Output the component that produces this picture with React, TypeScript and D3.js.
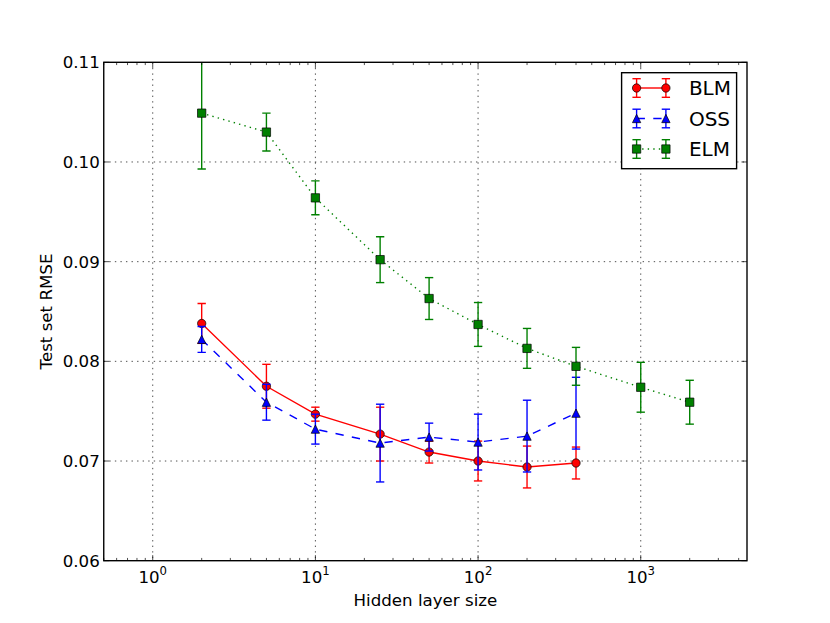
import { useRef, useEffect } from 'react'
import * as d3 from 'd3'

const W = 830
const H = 623
const MARGIN = { top: 62.3, right: 83, bottom: 62.3, left: 103.75 }
const PT = 100 / 72 // matplotlib points -> px at 100 dpi

const FONT = "'DejaVu Sans', 'Liberation Sans', sans-serif"
const RED = '#ff0000'
const BLUE = '#0000ff'
const GREEN = '#008000'

// ── Data ──────────────────────────────────────────────────────────────
const BLM_SIZES = [2, 5, 10, 25, 50, 100, 200, 400]
const BLM_RMSE = [0.0838, 0.0775, 0.0747, 0.0727, 0.0709, 0.07, 0.0694, 0.0698]
const BLM_ERR = [0.002, 0.0022, 0.0007, 0.0027, 0.0011, 0.002, 0.0021, 0.0016]

const OSS_SIZES = [2, 5, 10, 25, 50, 100, 200, 400]
const OSS_RMSE = [0.0822, 0.0759, 0.0732, 0.0718, 0.0724, 0.0719, 0.0725, 0.0748]
const OSS_ERR = [0.0013, 0.0018, 0.0015, 0.0039, 0.0014, 0.0028, 0.0036, 0.0036]

const ELM_SIZES = [2, 5, 10, 25, 50, 100, 200, 400, 1000, 2000]
const ELM_RMSE = [0.1049, 0.103, 0.0964, 0.0902, 0.0863, 0.0837, 0.0813, 0.0795, 0.0774, 0.0759]
const ELM_ERR = [0.0056, 0.0019, 0.0017, 0.0023, 0.0021, 0.0022, 0.002, 0.0019, 0.0025, 0.0022]

const X_DOMAIN: [number, number] = [0.5, 4500]
const Y_DOMAIN: [number, number] = [0.06, 0.11]
const X_MAJOR = [1, 10, 100, 1000]
const X_EXPONENTS = ['0', '1', '2', '3']
const Y_TICKS = [0.06, 0.07, 0.08, 0.09, 0.1, 0.11]
const Y_LABELS = ['0.06', '0.07', '0.08', '0.09', '0.10', '0.11']

const X_TITLE = 'Hidden layer size'
const Y_TITLE = 'Test set RMSE'

// matplotlib '^' marker: apex up, base as wide as it is tall
const triangleUp: d3.SymbolType = {
  draw(ctx, size) {
    const r = Math.sqrt(size) / 2
    ctx.moveTo(0, -r)
    ctx.lineTo(r, r)
    ctx.lineTo(-r, r)
    ctx.closePath()
  },
}

const MS = 6 * PT // marker size
const SERIES = [
  { name: 'BLM', sizes: BLM_SIZES, rmse: BLM_RMSE, err: BLM_ERR, color: RED, dash: null as string | null,
    symbol: d3.symbol(d3.symbolCircle, Math.PI * (MS / 2) ** 2) },
  { name: 'OSS', sizes: OSS_SIZES, rmse: OSS_RMSE, err: OSS_ERR, color: BLUE, dash: `${6 * PT},${6 * PT}`,
    symbol: d3.symbol(triangleUp, MS * MS) },
  { name: 'ELM', sizes: ELM_SIZES, rmse: ELM_RMSE, err: ELM_ERR, color: GREEN, dash: `${1 * PT},${3 * PT}`,
    symbol: d3.symbol(d3.symbolSquare, MS * MS) },
]

export default function App() {
  const svgRef = useRef<SVGSVGElement>(null)

  useEffect(() => {
    const svg = d3.select(svgRef.current)
    svg.selectAll('*').remove()

    const w = W - MARGIN.left - MARGIN.right
    const h = H - MARGIN.top - MARGIN.bottom
    const x = d3.scaleLog().domain(X_DOMAIN).range([0, w])
    const y = d3.scaleLinear().domain(Y_DOMAIN).range([h, 0])

    svg.append('rect').attr('width', W).attr('height', H).attr('fill', '#fff')

    svg.append('defs').append('clipPath').attr('id', 'plot-clip')
      .append('rect').attr('width', w).attr('height', h)

    const g = svg.append('g').attr('transform', `translate(${MARGIN.left},${MARGIN.top})`)

    // ── Grid ────────────────────────────────────────────────────────────
    const gridDash = `${1 * PT},${3 * PT}`
    g.selectAll('.vgrid').data(X_MAJOR).join('line').attr('class', 'vgrid')
      .attr('x1', (d) => x(d)).attr('x2', (d) => x(d))
      .attr('y1', 0).attr('y2', h)
      .attr('stroke', '#000').attr('stroke-width', 0.5 * PT).attr('stroke-dasharray', gridDash)
    g.selectAll('.hgrid').data(Y_TICKS.slice(1, -1)).join('line').attr('class', 'hgrid')
      .attr('x1', 0).attr('x2', w)
      .attr('y1', (d) => y(d)).attr('y2', (d) => y(d))
      .attr('stroke', '#000').attr('stroke-width', 0.5 * PT).attr('stroke-dasharray', gridDash)

    // ── Series ──────────────────────────────────────────────────────────
    const cap = 3 * PT
    SERIES.forEach((s) => {
      const pts = s.sizes.map((d, i) => ({ size: d, value: s.rmse[i], err: s.err[i] }))
      const sg = g.append('g').attr('clip-path', 'url(#plot-clip)')

      sg.selectAll('.eb').data(pts).join('line').attr('class', 'eb')
        .attr('x1', (d) => x(d.size)).attr('x2', (d) => x(d.size))
        .attr('y1', (d) => y(d.value - d.err)).attr('y2', (d) => y(d.value + d.err))
        .attr('stroke', s.color).attr('stroke-width', PT)
      ;[-1, 1].forEach((sign, k) => {
        sg.selectAll(`.cap${k}`).data(pts).join('line').attr('class', `cap${k}`)
          .attr('x1', (d) => x(d.size) - cap).attr('x2', (d) => x(d.size) + cap)
          .attr('y1', (d) => y(d.value + sign * d.err)).attr('y2', (d) => y(d.value + sign * d.err))
          .attr('stroke', s.color).attr('stroke-width', PT)
      })

      const line = d3.line<{ size: number; value: number }>().x((d) => x(d.size)).y((d) => y(d.value))
      sg.append('path').datum(pts).attr('d', line)
        .attr('fill', 'none').attr('stroke', s.color).attr('stroke-width', PT)
        .attr('stroke-dasharray', s.dash)

      sg.selectAll('.marker').data(pts).join('path').attr('class', 'marker')
        .attr('transform', (d) => `translate(${x(d.size)},${y(d.value)})`)
        .attr('d', s.symbol())
        .attr('fill', s.color).attr('stroke', '#000').attr('stroke-width', 0.5 * PT)
    })

    // ── Frame & ticks ───────────────────────────────────────────────────
    const major = 4 * PT
    const minor = 2 * PT
    const minorTicks = x.ticks().filter((d) => !X_MAJOR.includes(d))
    ;[0, h].forEach((yy, k) => {
      const dir = k === 0 ? 1 : -1
      g.selectAll(`.xmaj${k}`).data(X_MAJOR).join('line').attr('class', `xmaj${k}`)
        .attr('x1', (d) => x(d)).attr('x2', (d) => x(d))
        .attr('y1', yy).attr('y2', yy + dir * major)
        .attr('stroke', '#000').attr('stroke-width', 0.5 * PT)
      g.selectAll(`.xmin${k}`).data(minorTicks).join('line').attr('class', `xmin${k}`)
        .attr('x1', (d) => x(d)).attr('x2', (d) => x(d))
        .attr('y1', yy).attr('y2', yy + dir * minor)
        .attr('stroke', '#000').attr('stroke-width', 0.5 * PT)
    })
    ;[0, w].forEach((xx, k) => {
      const dir = k === 0 ? 1 : -1
      g.selectAll(`.ymaj${k}`).data(Y_TICKS).join('line').attr('class', `ymaj${k}`)
        .attr('x1', xx).attr('x2', xx + dir * major)
        .attr('y1', (d) => y(d)).attr('y2', (d) => y(d))
        .attr('stroke', '#000').attr('stroke-width', 0.5 * PT)
    })
    g.append('rect').attr('width', w).attr('height', h)
      .attr('fill', 'none').attr('stroke', '#000').attr('stroke-width', PT)

    // ── Tick labels ─────────────────────────────────────────────────────
    g.selectAll('.ylab').data(Y_TICKS).join('text').attr('class', 'ylab')
      .attr('x', -4).attr('y', (d) => y(d)).attr('dy', '0.36em')
      .attr('text-anchor', 'end').attr('font-family', FONT).attr('font-size', 16.67)
      .text((d, i) => Y_LABELS[i])

    const xl = g.selectAll('.xlab').data(X_MAJOR).join('text').attr('class', 'xlab')
      .attr('x', (d) => x(d)).attr('y', h + 22)
      .attr('text-anchor', 'middle').attr('font-family', FONT).attr('font-size', 16.67)
    xl.append('tspan').text('10')
    xl.append('tspan').attr('dy', -8).attr('font-size', 11.7).text((d, i) => X_EXPONENTS[i])

    // ── Axis titles ─────────────────────────────────────────────────────
    g.append('text')
      .attr('x', w / 2).attr('y', h + 45)
      .attr('text-anchor', 'middle').attr('font-family', FONT).attr('font-size', 16.67)
      .text(X_TITLE)
    g.append('text')
      .attr('transform', `translate(${52.3 - MARGIN.left},${h / 2}) rotate(-90)`)
      .attr('text-anchor', 'middle').attr('font-family', FONT).attr('font-size', 16.67)
      .text(Y_TITLE)

    // ── Legend ──────────────────────────────────────────────────────────
    const lgX = w - 10.4 - 115
    const lgY = 10.4
    const legend = g.append('g').attr('transform', `translate(${lgX},${lgY})`)
    legend.append('rect').attr('width', 115).attr('height', 96)
      .attr('fill', '#fff').attr('stroke', '#000').attr('stroke-width', PT)
    SERIES.forEach((s, i) => {
      const row = legend.append('g').attr('transform', `translate(0,${15.3 + i * 30.5})`)
      const hx = [15, 44.3]
      hx.forEach((px) => {
        row.append('line').attr('x1', px).attr('x2', px).attr('y1', -9.3).attr('y2', 9.3)
          .attr('stroke', s.color).attr('stroke-width', PT)
        ;[-9.3, 9.3].forEach((py) => {
          row.append('line').attr('x1', px - cap).attr('x2', px + cap).attr('y1', py).attr('y2', py)
            .attr('stroke', s.color).attr('stroke-width', PT)
        })
      })
      row.append('line').attr('x1', hx[0]).attr('x2', hx[1]).attr('y1', 0).attr('y2', 0)
        .attr('stroke', s.color).attr('stroke-width', PT).attr('stroke-dasharray', s.dash)
      hx.forEach((px) => {
        row.append('path').attr('transform', `translate(${px},0)`).attr('d', s.symbol())
          .attr('fill', s.color).attr('stroke', '#000').attr('stroke-width', 0.5 * PT)
      })
      row.append('text').attr('x', 67.3).attr('y', 0).attr('dy', '0.36em')
        .attr('font-family', FONT).attr('font-size', 20).text(s.name)
    })
  }, [])

  return (
    <div style={{ position: 'absolute', left: 0, top: 0 }}>
      <svg ref={svgRef} width={W} height={H} style={{ display: 'block' }} />
    </div>
  )
}
